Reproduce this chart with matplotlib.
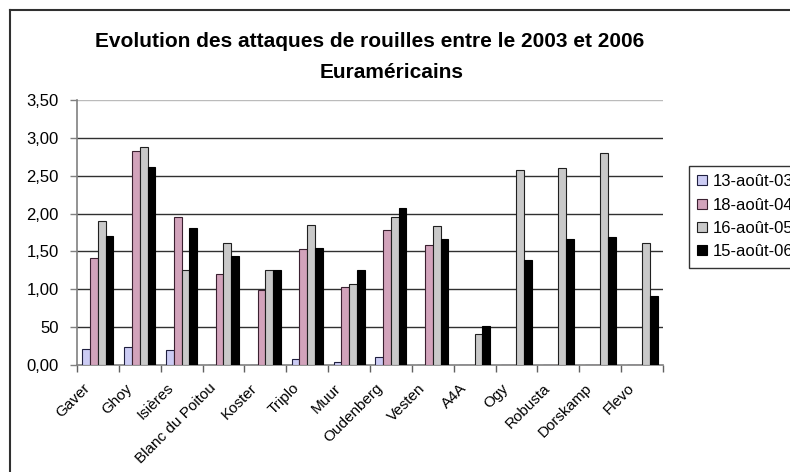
import numpy as np
import matplotlib
matplotlib.use("Agg")
import matplotlib.pyplot as plt
from matplotlib.lines import Line2D
from matplotlib.transforms import ScaledTranslation

plt.rcParams['font.family'] = ['Liberation Sans', 'DejaVu Sans']

CLONES = ["Gaver", "Ghoy", "Isières", "Blanc du Poitou", "Koster", "Triplo", "Muur",
          "Oudenberg", "Vesten", "A4A", "Ogy", "Robusta", "Dorskamp", "Flevo"]
DATES = ["13-août-03", "18-août-04", "16-août-05", "15-août-06"]

aout_03 = [0.21, 0.24, 0.20, 0, 0, 0.08, 0.035, 0.10, 0, 0, 0, 0, 0, 0]
aout_04 = [1.41, 2.83, 1.95, 1.20, 0.99, 1.53, 1.03, 1.78, 1.59, 0, 0, 0, 0, 0]
aout_05 = [1.90, 2.88, 1.25, 1.61, 1.25, 1.85, 1.07, 1.95, 1.84, 0.41, 2.57, 2.60, 2.80, 1.61]
aout_06 = [1.70, 2.61, 1.81, 1.44, 1.26, 1.55, 1.25, 2.07, 1.67, 0.52, 1.39, 1.66, 1.69, 0.91]

YTICKS = [0, 0.5, 1.0, 1.5, 2.0, 2.5, 3.0, 3.5]
YLABELS = ["0,00", "50", "1,00", "1,50", "2,00", "2,50", "3,00", "3,50"]

series = [aout_03, aout_04, aout_05, aout_06]
colors = ['#ccccf4', '#d2a3bb', '#c9c9c9', '#000000']
edges = ['#202040', '#3a2030', '#202020', '#000000']

W, H = 790, 472
fig = plt.figure(figsize=(W / 100, H / 100), dpi=100)
ax = fig.add_axes([77 / W, 1 - 365 / H, (663 - 77) / W, (365 - 100) / H])

x = np.arange(len(CLONES))
bw = 0.186
for i, (vals, c, e) in enumerate(zip(series, colors, edges)):
    ax.bar(x + (i - 1.5) * bw, vals, bw, color=c, edgecolor=e, linewidth=0.8,
           label=DATES[i], zorder=3)

ax.set_xlim(-0.5, len(CLONES) - 0.5)
ax.set_ylim(0, 3.5)
for yv in YTICKS[1:]:
    ax.axhline(yv, color='#bbbbbb' if yv == 3.5 else '#303030', lw=1, zorder=1)

ax.set_yticks(YTICKS)
ax.set_yticklabels(YLABELS, fontsize=12)
ax.tick_params(axis='y', direction='out', length=5, width=1, color='#808080', pad=8)

# category labels at 45 degrees, nudged left/down like the original
ax.set_xticks(x)
ax.set_xticklabels(CLONES, fontsize=11, rotation=45, ha='right', va='top',
                   rotation_mode='anchor')
ax.tick_params(axis='x', length=0, pad=11.5)
shift = ScaledTranslation(-15 / 100, 0, fig.dpi_scale_trans)
for lab in ax.get_xticklabels():
    lab.set_transform(lab.get_transform() + shift)
ax.set_xticks(np.arange(len(CLONES) + 1) - 0.5, minor=True)
ax.tick_params(axis='x', which='minor', direction='out', length=5, width=1, color='#606060')

for s in ['top', 'right']:
    ax.spines[s].set_visible(False)
for s in ['left', 'bottom']:
    ax.spines[s].set_color('#808080')
    ax.spines[s].set_linewidth(1.2)

fig.text(370 / W, 1 - 47 / H, "Evolution des attaques de rouilles entre le 2003 et 2006",
         ha='center', va='baseline', fontsize=15, fontweight='bold')
fig.text(392 / W, 1 - 78 / H, "Euraméricains",
         ha='center', va='baseline', fontsize=15, fontweight='bold')

leg = fig.legend(loc='upper left', bbox_to_anchor=(689 / W, 1 - 166 / H), fontsize=12,
                 frameon=True, fancybox=False, edgecolor='black', handlelength=0.55,
                 handleheight=0.55, handletextpad=0.35, borderpad=0.5, labelspacing=0.5,
                 borderaxespad=0)
leg.get_frame().set_linewidth(1)

fig.add_artist(Line2D([10 / W, 10 / W], [0, 1 - 10 / H], color='#303030', lw=1.5))
fig.add_artist(Line2D([10 / W, 1], [1 - 10 / H, 1 - 10 / H], color='#303030', lw=1.5))

fig.savefig("out.png", dpi=100)
